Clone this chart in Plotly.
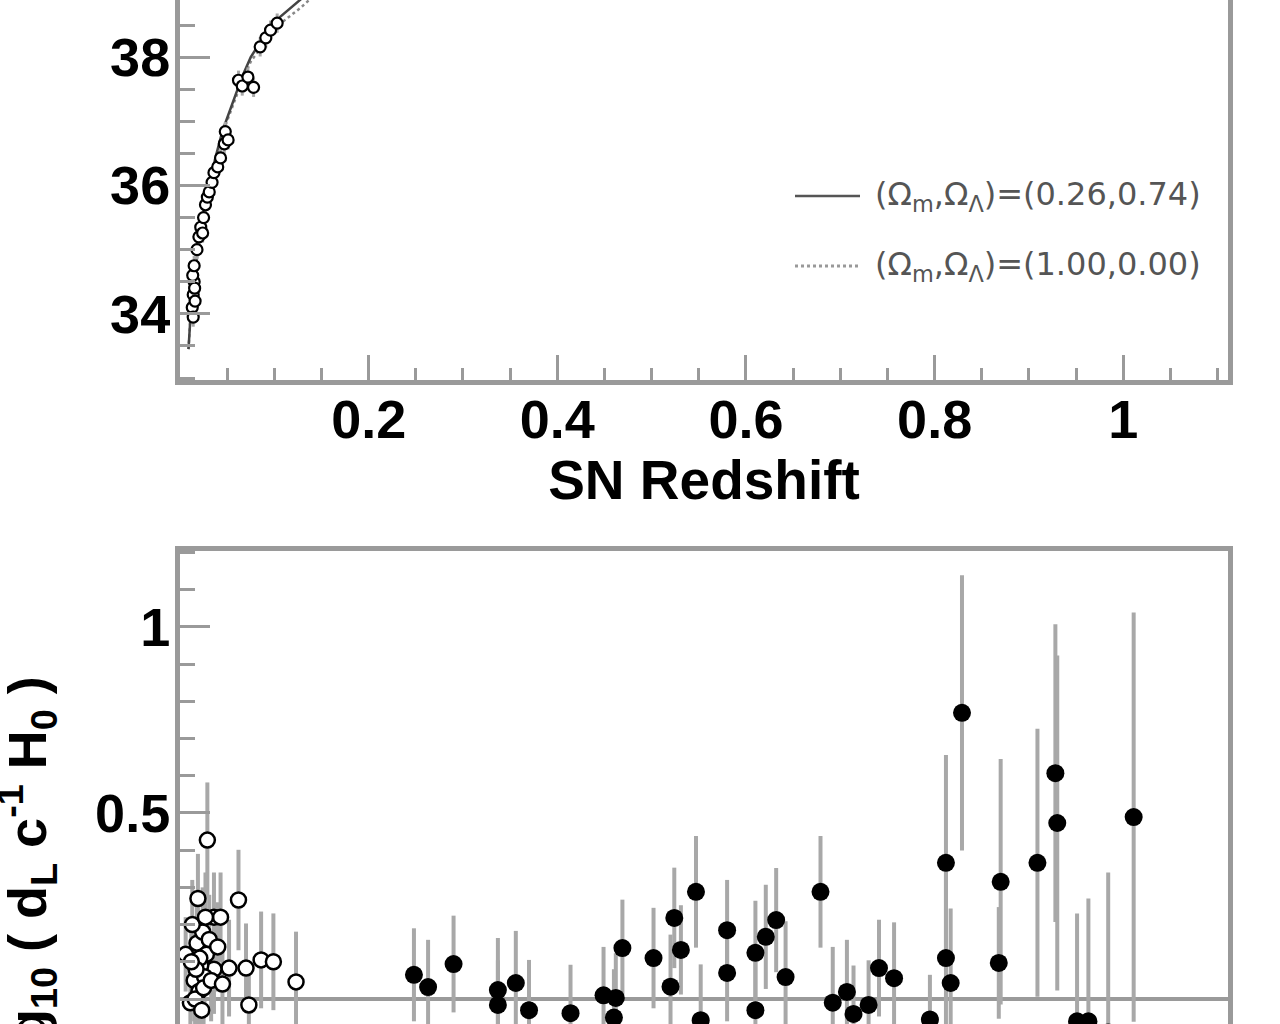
import plotly.graph_objects as go

# ---------------- data ----------------
# Top panel: low-redshift supernovae (open markers), distance modulus
top_z = [0.0130, 0.0140, 0.0150, 0.0135, 0.0160, 0.0140, 0.0155, 0.0150, 0.0180, 0.0200,
         0.0220, 0.0240, 0.0250, 0.0270, 0.0290, 0.0310, 0.0340, 0.0360, 0.0400, 0.0430,
         0.0470, 0.0480, 0.0510, 0.0620, 0.0660, 0.0780, 0.0720, 0.0850, 0.0910, 0.0960, 0.1030]
top_mu = [34.10, 34.30, 34.50, 34.60, 34.20, 33.95, 34.40, 34.75, 35.00, 35.20,
          35.35, 35.26, 35.50, 35.70, 35.82, 35.90, 36.05, 36.20, 36.29, 36.43,
          36.65, 36.84, 36.71, 37.64, 37.55, 37.53, 37.69, 38.16, 38.30, 38.42, 38.53]
top_err = [0.15] * len(top_z)

# Top panel: model curves
curve_z = [0.0090, 0.0113, 0.0150, 0.0190, 0.0240, 0.0300, 0.0370, 0.0450, 0.0550,
           0.0660, 0.0750, 0.0880, 0.1000, 0.1140, 0.1280, 0.1450]
curve_mu_lcdm = [33.45, 34.00, 34.55, 35.00, 35.45, 35.90, 36.40, 36.85, 37.25,
                 37.70, 38.00, 38.30, 38.55, 38.72, 38.90, 39.15]
curve_mu_eds = [33.45, 34.00, 34.54, 34.99, 35.43, 35.88, 36.37, 36.81, 37.20,
                37.64, 37.93, 38.21, 38.45, 38.61, 38.77, 39.00]

# Bottom panel: low-redshift sample (open markers)
low_z = [0.029, 0.062, 0.036, 0.043, 0.086, 0.099, 0.123, 0.073, 0.070, 0.052,
         0.036, 0.006, 0.011, 0.015, 0.018, 0.020, 0.022, 0.024, 0.026, 0.028,
         0.013, 0.016, 0.019, 0.021, 0.025, 0.031, 0.033, 0.017, 0.027, 0.045,
         0.040, 0.012, 0.023]
low_v = [0.427, 0.266, 0.220, 0.220, 0.105, 0.100, 0.046, -0.016, 0.083, 0.083,
         0.080, 0.120, -0.010, 0.050, 0.150, 0.020, 0.090, 0.180, 0.060, 0.120,
         0.200, 0.000, 0.270, 0.110, 0.030, 0.160, 0.050, 0.080, 0.220, 0.040,
         0.140, 0.100, -0.030]
low_err = [0.155, 0.135, 0.120, 0.120, 0.130, 0.130, 0.135, 0.110, 0.120, 0.130,
           0.120, 0.100, 0.100, 0.110, 0.110, 0.100, 0.110, 0.120, 0.100, 0.110,
           0.120, 0.100, 0.120, 0.100, 0.110, 0.120, 0.110, 0.100, 0.120, 0.110,
           0.120, 0.100, 0.100]

# Bottom panel: high-redshift sample (filled markers)
high_z = [0.248, 0.263, 0.290, 0.337, 0.337, 0.356, 0.370, 0.414, 0.449, 0.462,
          0.460, 0.469, 0.502, 0.520, 0.524, 0.531, 0.547, 0.552, 0.580, 0.580,
          0.610, 0.610, 0.621, 0.632, 0.642, 0.679, 0.692, 0.707, 0.714, 0.730,
          0.741, 0.757, 0.795, 0.812, 0.812, 0.817, 0.829, 0.870, 0.868, 0.909,
          0.928, 0.930, 1.011, 0.951, 0.963, 0.984]
high_v = [0.065, 0.032, 0.094, 0.024, -0.016, 0.043, -0.030, -0.038, 0.010, 0.003,
          -0.050, 0.137, 0.110, 0.033, 0.218, 0.132, 0.288, -0.057, 0.185, 0.070,
          0.124, -0.030, 0.167, 0.212, 0.059, 0.288, -0.010, 0.019, -0.040, -0.016,
          0.083, 0.056, -0.055, 0.366, 0.110, 0.043, 0.769, 0.315, 0.097, 0.366,
          0.607, 0.473, 0.489, -0.060, -0.060, -0.090]
high_err = [0.125, 0.127, 0.130, 0.140, 0.120, 0.140, 0.135, 0.130, 0.130, 0.120,
            0.130, 0.130, 0.135, 0.140, 0.135, 0.120, 0.150, 0.150, 0.135, 0.130,
            0.140, 0.130, 0.140, 0.140, 0.150, 0.150, 0.150, 0.140, 0.130, 0.120,
            0.130, 0.150, 0.120, 0.290, 0.260, 0.200, 0.370, 0.330, 0.150, 0.360,
            0.400, 0.450, 0.550, 0.290, 0.330, 0.430]

# Tick labels
x_ticks = [0.2, 0.4, 0.6, 0.8, 1.0]
x_ticktext = ["0.2", "0.4", "0.6", "0.8", "1"]
top_yticks = [34, 36, 38]
bot_yticks = [0, 0.5, 1]
bot_yticktext = ["0", "0.5", "1"]

legend_labels = ["(Ω<sub>m</sub>,Ω<sub>Λ</sub>)=(0.26,0.74)",
                 "(Ω<sub>m</sub>,Ω<sub>Λ</sub>)=(1.00,0.00)"]

# ---------------- figure ----------------
W, H = 1280, 1024
L, R = 180, 52
plot_w = W - L - R

def px_x(p):
    return (p - L) / plot_w

def px_y(p):
    return 1 - p / H

AX = "#9a9a9a"
EB = "#a8a8a8"
TICKFONT = dict(family="Liberation Sans, Arial, sans-serif", size=54, color="black", weight="bold")

fig = go.Figure()

# top panel curves
fig.add_trace(go.Scatter(x=curve_z, y=curve_mu_eds, mode="lines",
                         line=dict(color="#888888", width=2.5, dash="dot"),
                         xaxis="x", yaxis="y", showlegend=False))
fig.add_trace(go.Scatter(x=curve_z, y=curve_mu_lcdm, mode="lines",
                         line=dict(color="#444444", width=2.5),
                         xaxis="x", yaxis="y", showlegend=False))
# top panel data
fig.add_trace(go.Scatter(x=top_z, y=top_mu, mode="markers",
                         error_y=dict(type="data", array=top_err, color=EB, thickness=3, width=0),
                         marker=dict(symbol="circle", size=11, color="white",
                                     line=dict(color="black", width=2.2)),
                         xaxis="x", yaxis="y", showlegend=False))

# bottom panel data
fig.add_trace(go.Scatter(x=low_z, y=low_v, mode="markers",
                         error_y=dict(type="data", array=low_err, color=EB, thickness=4, width=0),
                         marker=dict(symbol="circle", size=15, color="white",
                                     line=dict(color="black", width=2.5)),
                         xaxis="x2", yaxis="y2", showlegend=False))
fig.add_trace(go.Scatter(x=high_z, y=high_v, mode="markers",
                         error_y=dict(type="data", array=high_err, color=EB, thickness=4, width=0),
                         marker=dict(symbol="circle", size=18, color="black"),
                         xaxis="x2", yaxis="y2", showlegend=False))

common_x = dict(range=[0, 1.111], showgrid=False, zeroline=False,
                showline=True, linecolor=AX, linewidth=5)

fig.update_layout(
    width=W, height=H,
    margin=dict(l=L, r=R, t=0, b=0),
    paper_bgcolor="white", plot_bgcolor="white",
    font=dict(family="Liberation Sans, Arial, sans-serif", color="black"),
    xaxis=dict(**common_x, domain=[0, 1], anchor="y", mirror=False,
               tickmode="array", tickvals=x_ticks, ticktext=x_ticktext,
               ticks="inside", ticklen=25, tickwidth=3, tickcolor=AX,
               tickfont=TICKFONT, ticklabelstandoff=-12,
               minor=dict(dtick=0.05, tick0=0, ticks="inside", ticklen=12,
                          tickwidth=3, tickcolor=AX, showgrid=False),
               title=dict(text="SN Redshift", font=dict(size=55, weight="bold",
                          family="Liberation Sans, Arial, sans-serif"), standoff=0)),
    yaxis=dict(domain=[px_y(380), 1], anchor="x", range=[32.97, 38.89],
               showgrid=False, zeroline=False, showline=True, linecolor=AX,
               linewidth=5, mirror=True,
               tickmode="array", tickvals=top_yticks,
               ticks="inside", ticklen=30, tickwidth=3, tickcolor=AX,
               tickfont=TICKFONT, ticklabelstandoff=-6,
               minor=dict(dtick=0.5, tick0=0, ticks="inside", ticklen=15,
                          tickwidth=3, tickcolor=AX, showgrid=False)),
    xaxis2=dict(**common_x, domain=[0, 1], anchor="y2", side="top", mirror=False,
                ticks="", showticklabels=False),
    yaxis2=dict(domain=[0, px_y(551)], anchor="x2", range=[-0.0672, 1.204],
                showgrid=False, showline=True, linecolor=AX, linewidth=5, mirror=True,
                zeroline=True, zerolinecolor=AX, zerolinewidth=4,
                tickmode="array", tickvals=bot_yticks, ticktext=bot_yticktext,
                ticks="inside", ticklen=30, tickwidth=3, tickcolor=AX,
                tickfont=TICKFONT, ticklabelstandoff=-6,
                minor=dict(dtick=0.1, tick0=0, ticks="inside", ticklen=15,
                           tickwidth=3, tickcolor=AX, showgrid=False)),
)

# legend (drawn inside the top panel)
leg_rows = [196, 266]
leg_styles = [dict(color="#555555", width=2.5), dict(color="#999999", width=3, dash="dot")]
for row, lab, st in zip(leg_rows, legend_labels, leg_styles):
    fig.add_shape(type="line", xref="paper", yref="paper",
                  x0=px_x(795), x1=px_x(860), y0=px_y(row), y1=px_y(row), line=st)
    fig.add_annotation(xref="paper", yref="paper", x=px_x(873), y=px_y(row),
                       xanchor="left", yanchor="middle", showarrow=False, text=lab,
                       font=dict(family="DejaVu Sans, sans-serif", size=32, color="#555555"))

# y-axis title of the lower panel
fig.add_annotation(xref="paper", yref="paper", x=px_x(27), y=px_y(883),
                   xanchor="center", yanchor="middle", showarrow=False, textangle=-90,
                   text="log<sub>10</sub> ( d<sub>L</sub> c<sup>-1</sup> H<sub>0</sub> )",
                   font=dict(family="Liberation Sans, Arial, sans-serif", size=54,
                             color="black", weight="bold"))

fig.write_html("out.html", config={"displayModeBar": False},
               post_script="document.body.style.margin='0';")
